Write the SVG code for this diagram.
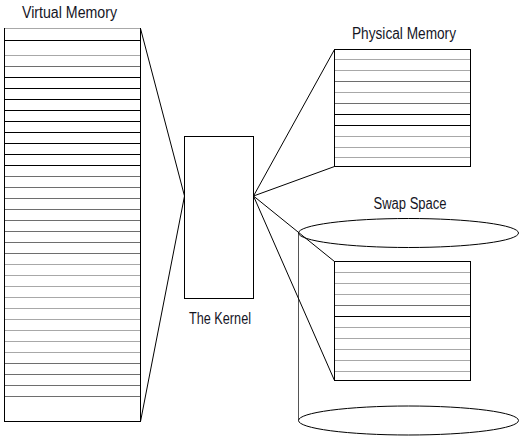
<svg xmlns="http://www.w3.org/2000/svg" width="519" height="436" viewBox="0 0 519 436">
<style>
  .box { fill: #ffffff; stroke: #000000; stroke-width: 1; }
  .k { stroke: #000000; stroke-width: 1; }
  .d { stroke: #6e6e6e; stroke-width: 1; }
  .g { stroke: #a8a8a8; stroke-width: 1.2; }
  .conn { stroke: #000000; stroke-width: 1; fill: none; }
  .disk { fill: #ffffff; stroke: #000000; stroke-width: 1; }
  .lbl { font-family: "Liberation Sans", Arial, sans-serif; font-size: 16px; fill: #15151f; }
</style>
<rect width="519" height="436" fill="#ffffff"/>

<g id="swap-space">
  <line x1="298.5" y1="233" x2="298.5" y2="420.5" stroke="#555" stroke-width="1"/>
  <ellipse class="disk" cx="408.5" cy="420.5" rx="110" ry="14.5"/>
  <ellipse class="disk" cx="408.5" cy="233" rx="110" ry="14.5"/>
  <text class="lbl" x="373.5" y="209" textLength="73" lengthAdjust="spacingAndGlyphs">Swap Space</text>
  <rect class="box" x="334.5" y="261.5" width="136" height="119"/>
  <line class="g" x1="335" y1="272.5" x2="470" y2="272.5"/>
  <line class="g" x1="335" y1="283.5" x2="470" y2="283.5"/>
  <line class="g" x1="335" y1="294.5" x2="470" y2="294.5"/>
  <line class="d" x1="335" y1="305.5" x2="470" y2="305.5"/>
  <line class="k" x1="335" y1="316.5" x2="470" y2="316.5"/>
  <line class="g" x1="335" y1="327.5" x2="470" y2="327.5"/>
  <line class="g" x1="335" y1="338.5" x2="470" y2="338.5"/>
  <line class="g" x1="335" y1="349.5" x2="470" y2="349.5"/>
  <line class="g" x1="335" y1="360.5" x2="470" y2="360.5"/>
  <line class="g" x1="335" y1="371.5" x2="470" y2="371.5"/>
</g>

<g id="virtual-memory">
  <text class="lbl" x="22" y="18" textLength="95" lengthAdjust="spacingAndGlyphs">Virtual Memory</text>
  <rect class="box" x="4.5" y="28.5" width="136" height="393"/>
  <line class="g" x1="5" y1="28.5" x2="140" y2="28.5"/>
  <line class="k" x1="5" y1="40.5" x2="140" y2="40.5"/>
  <line class="g" x1="5" y1="55.5" x2="140" y2="55.5"/>
  <line class="d" x1="5" y1="66.5" x2="140" y2="66.5"/>
  <line class="k" x1="5" y1="77.5" x2="140" y2="77.5"/>
  <line class="k" x1="5" y1="88.5" x2="140" y2="88.5"/>
  <line class="k" x1="5" y1="99.5" x2="140" y2="99.5"/>
  <line class="k" x1="5" y1="110.5" x2="140" y2="110.5"/>
  <line class="k" x1="5" y1="121.5" x2="140" y2="121.5"/>
  <line class="k" x1="5" y1="132.5" x2="140" y2="132.5"/>
  <line class="k" x1="5" y1="143.5" x2="140" y2="143.5"/>
  <line class="k" x1="5" y1="154.5" x2="140" y2="154.5"/>
  <line class="k" x1="5" y1="165.5" x2="140" y2="165.5"/>
  <line class="d" x1="5" y1="176.5" x2="140" y2="176.5"/>
  <line class="d" x1="5" y1="187.5" x2="140" y2="187.5"/>
  <line class="d" x1="5" y1="198.5" x2="140" y2="198.5"/>
  <line class="d" x1="5" y1="209.5" x2="140" y2="209.5"/>
  <line class="d" x1="5" y1="220.5" x2="140" y2="220.5"/>
  <line class="d" x1="5" y1="231.5" x2="140" y2="231.5"/>
  <line class="d" x1="5" y1="242.5" x2="140" y2="242.5"/>
  <line class="d" x1="5" y1="253.5" x2="140" y2="253.5"/>
  <line class="g" x1="5" y1="264.5" x2="140" y2="264.5"/>
  <line class="g" x1="5" y1="275.5" x2="140" y2="275.5"/>
  <line class="g" x1="5" y1="286.5" x2="140" y2="286.5"/>
  <line class="g" x1="5" y1="297.5" x2="140" y2="297.5"/>
  <line class="g" x1="5" y1="308.5" x2="140" y2="308.5"/>
  <line class="g" x1="5" y1="319.5" x2="140" y2="319.5"/>
  <line class="g" x1="5" y1="330.5" x2="140" y2="330.5"/>
  <line class="g" x1="5" y1="341.5" x2="140" y2="341.5"/>
  <line class="g" x1="5" y1="352.5" x2="140" y2="352.5"/>
  <line class="d" x1="5" y1="363.5" x2="140" y2="363.5"/>
  <line class="d" x1="5" y1="374.5" x2="140" y2="374.5"/>
  <line class="d" x1="5" y1="385.5" x2="140" y2="385.5"/>
  <line class="d" x1="5" y1="396.5" x2="140" y2="396.5"/>
</g>

<g id="kernel">
  <rect class="box" x="184.5" y="136.5" width="69" height="162"/>
  <text class="lbl" x="189" y="324" textLength="62" lengthAdjust="spacingAndGlyphs">The Kernel</text>
</g>

<g id="physical-memory">
  <text class="lbl" x="352" y="39" textLength="104" lengthAdjust="spacingAndGlyphs">Physical Memory</text>
  <rect class="box" x="334.5" y="49.5" width="136" height="117"/>
  <line class="g" x1="335" y1="59.5" x2="470" y2="59.5"/>
  <line class="g" x1="335" y1="70.5" x2="470" y2="70.5"/>
  <line class="d" x1="335" y1="81.5" x2="470" y2="81.5"/>
  <line class="g" x1="335" y1="92.5" x2="470" y2="92.5"/>
  <line class="d" x1="335" y1="103.5" x2="470" y2="103.5"/>
  <line class="k" x1="335" y1="114.5" x2="470" y2="114.5"/>
  <line class="k" x1="335" y1="125.5" x2="470" y2="125.5"/>
  <line class="g" x1="335" y1="136.5" x2="470" y2="136.5"/>
  <line class="g" x1="335" y1="147.5" x2="470" y2="147.5"/>
  <line class="g" x1="335" y1="157.5" x2="470" y2="157.5"/>
</g>

<g id="connectors">
  <polyline class="conn" points="140.5,28.5 184.5,196 140.5,421.5"/>
  <line class="conn" x1="253.5" y1="196" x2="334.5" y2="49.5"/>
  <line class="conn" x1="253.5" y1="196" x2="334.5" y2="166.5"/>
  <line class="conn" x1="253.5" y1="196" x2="334.5" y2="261.5"/>
  <line class="conn" x1="253.5" y1="196" x2="334.5" y2="380.5"/>
</g>
</svg>
